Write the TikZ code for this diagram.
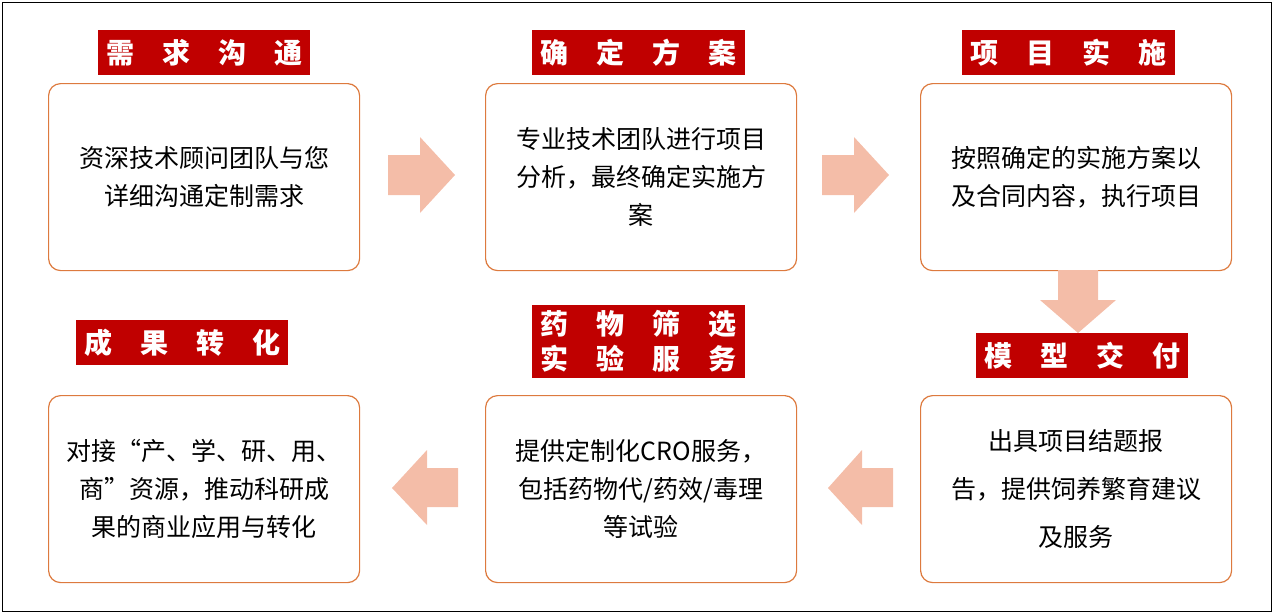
\documentclass[tikz,border=0pt]{standalone}
\usepackage{fontspec}
\setmainfont{Noto Sans CJK SC}
\definecolor{bord}{HTML}{DD7A3E}
\definecolor{arrc}{HTML}{F4BDA8}
\definecolor{tred}{HTML}{C00000}
\begin{document}
\begin{tikzpicture}[x=1pt,y=-1pt,
 box/.style={draw=bord,line width=1.2pt,rounded corners=12pt,minimum width=311pt,minimum height=187pt,anchor=north west,font=\fontsize{25}{38}\selectfont,align=center,text width=300pt},
 ttl/.style={fill=tred,text=white,font=\fontsize{28}{36}\selectfont\bfseries,anchor=north west,align=center,inner sep=0pt},
 arr/.style={fill=arrc,draw=none}]
\useasboundingbox (0,0) rectangle (1274,614);
\draw[line width=1pt] (2,2) rectangle (1271,611);
\node[box] (b1) at (48,83) {资深技术顾问团队与您\\详细沟通定制需求};
\node[box] (b2) at (485,83) {专业技术团队进行项目\\分析，最终确定实施方\\案};
\node[box] (b3) at (920,83) {按照确定的实施方案以\\及合同内容，执行项目};
\node[box] (b4) at (48,395) {对接“产、学、研、用、\\商”资源，推动科研成\\果的商业应用与转化};
\node[box] (b5) at (485,395) {提供定制化CRO服务，\\包括药物代/药效/毒理\\等试验};
\node[box,font=\fontsize{25}{48}\selectfont] (b6) at (920,395) {出具项目结题报\\告，提供饲养繁育建议\\及服务};
\node[ttl,minimum width=212pt,minimum height=45pt] (t1) at (98,30) {需\quad 求\quad 沟\quad 通};
\node[ttl,minimum width=213pt,minimum height=45pt] (t2) at (532,30) {确\quad 定\quad 方\quad 案};
\node[ttl,minimum width=213pt,minimum height=45pt] (t3) at (962,30) {项\quad 目\quad 实\quad 施};
\node[ttl,minimum width=212pt,minimum height=45pt] (t4) at (76,320) {成\quad 果\quad 转\quad 化};
\node[ttl,minimum width=213pt,minimum height=73pt,font=\fontsize{28}{35}\selectfont\bfseries] (t5) at (532,305) {药\quad 物\quad 筛\quad 选\\实\quad 验\quad 服\quad 务};
\node[ttl,minimum width=212pt,minimum height=45pt] (t6) at (976,333) {模\quad 型\quad 交\quad 付};
\fill[arr] (388,155) -- (420,155) -- (420,137) -- (455,175) -- (420,213) -- (420,195) -- (388,195) -- cycle;
\fill[arr] (822,155) -- (854,155) -- (854,137) -- (889,175) -- (854,213) -- (854,195) -- (822,195) -- cycle;
\fill[arr] (1058,270) -- (1098,270) -- (1098,300) -- (1116,300) -- (1078,333) -- (1040,300) -- (1058,300) -- cycle;
\fill[arr] (893,468) -- (862,468) -- (862,450) -- (828,488) -- (862,525) -- (862,507) -- (893,507) -- cycle;
\fill[arr] (458,468) -- (427,468) -- (427,450) -- (392,488) -- (427,525) -- (427,507) -- (458,507) -- cycle;
\end{tikzpicture}
\end{document}
